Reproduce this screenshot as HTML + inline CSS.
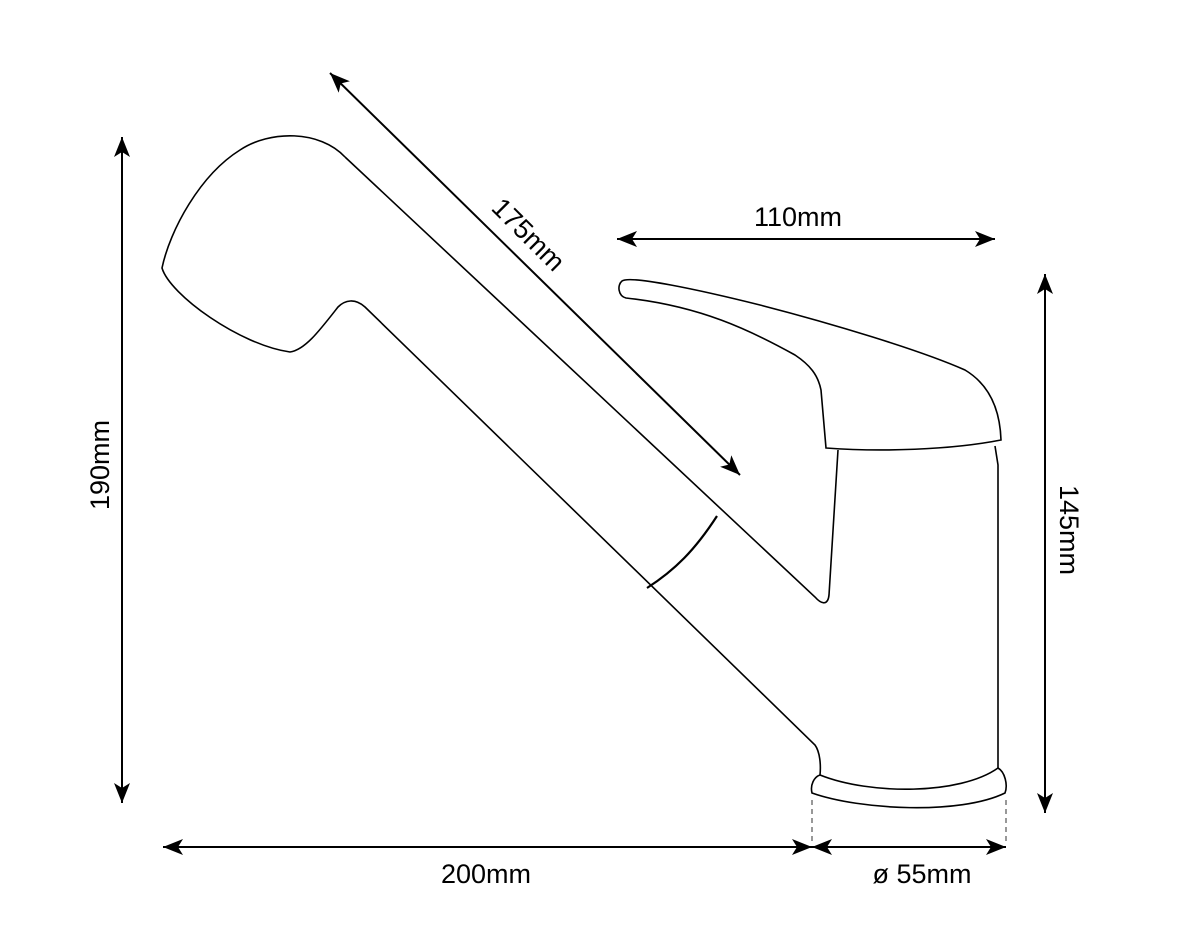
<!DOCTYPE html>
<html><head><style>body{margin:0;background:#fff}svg{display:block}text{font-family:"Liberation Sans",sans-serif;font-size:27px;fill:#000}</style></head>
<body>
<svg width="1200" height="950" viewBox="0 0 1200 950">
<defs>
<marker id="a" viewBox="0 0 10 10" refX="10" refY="5" markerWidth="20" markerHeight="20" markerUnits="userSpaceOnUse" orient="auto-start-reverse"><path d="M0,1 L10,5 L0,9 L2.5,5 z" fill="#000"/></marker>
</defs>
<g fill="none" stroke="#000" stroke-width="1.6">
<path d="M345,157 C320,130 270,130 240,150 C200,175 170,230 162,268 C170,295 240,345 290,352 C305,350 320,330 338,307 C345,300 355,298 365,307 L815,745 C820,752 821,765 820,775"/>
<path d="M345,157 L815,597 C822,605 828,605 829,595 L838,450"/>
<path d="M717,516 C695,550 675,570 647,588" stroke-width="2.2"/>
<path d="M626,298 C618,296 617,285 622,281 C630,275 700,290 760,305 C830,323 920,350 965,370 C990,385 1000,410 1001,440 C950,450 880,452 826,448 L821,390 C818,375 810,365 795,355 C750,330 700,306 626,298 Z"/>
<path d="M995,446 L998,465 L998,768"/>
<path d="M820,775 C870,795 960,795 998,768 C1005,772 1008,785 1005,793 C960,815 860,810 812,793 C810,785 814,777 820,775 Z"/>
</g>
<g stroke="#777" stroke-width="1.5" stroke-dasharray="5,4">
<line x1="812" y1="800" x2="812" y2="845"/><line x1="1006" y1="800" x2="1006" y2="845"/>
</g>
<g stroke="#000" stroke-width="2" marker-start="url(#a)" marker-end="url(#a)">
<line x1="122" y1="137" x2="122" y2="803"/>
<line x1="330" y1="73" x2="740" y2="475"/>
<line x1="617" y1="239" x2="995" y2="239"/>
<line x1="1045" y1="274" x2="1045" y2="813"/>
<line x1="163" y1="847" x2="812" y2="847"/>
<line x1="812" y1="847" x2="1006" y2="847"/>
</g>
<text x="798" y="226" text-anchor="middle">110mm</text>
<text x="486" y="883" text-anchor="middle">200mm</text>
<text x="922" y="883" text-anchor="middle">ø 55mm</text>
<text transform="translate(109,465) rotate(-90)" text-anchor="middle">190mm</text>
<text transform="translate(1060,530) rotate(90)" text-anchor="middle">145mm</text>
<text transform="translate(522,241) rotate(45)" text-anchor="middle">175mm</text>
</svg>
</body></html>
